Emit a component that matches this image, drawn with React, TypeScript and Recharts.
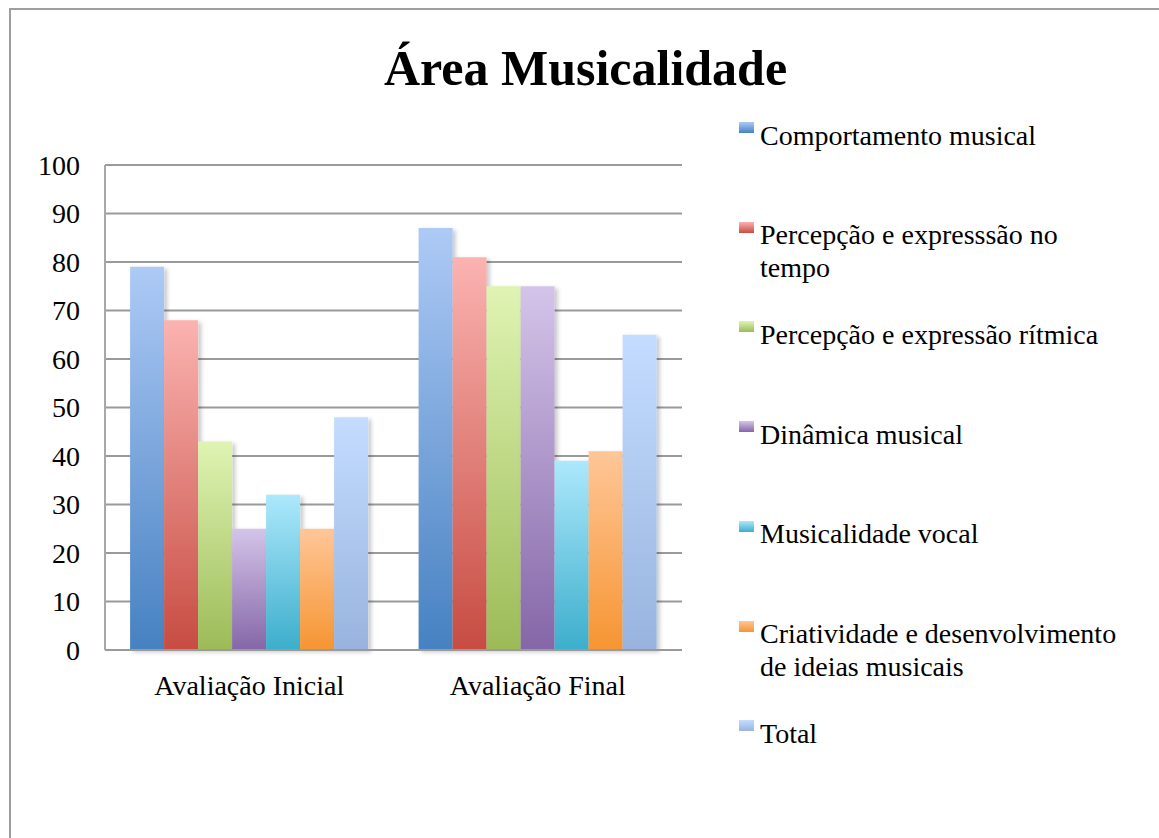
import React from 'react';
import { BarChart, Bar, XAxis, YAxis, CartesianGrid, Legend } from 'recharts';

const FONT = '"Liberation Serif", "Times New Roman", serif';

const categories = ['Avaliação Inicial', 'Avaliação Final'];

const seriesNames = [
  'Comportamento musical',
  'Percepção e expresssão no tempo',
  'Percepção e expressão rítmica',
  'Dinâmica musical',
  'Musicalidade vocal',
  'Criatividade e desenvolvimento de ideias musicais',
  'Total',
];

const comportamentoMusical = [79, 87];
const percepcaoTempo = [68, 81];
const percepcaoRitmica = [43, 75];
const dinamicaMusical = [25, 75];
const musicalidadeVocal = [32, 39];
const criatividade = [25, 41];
const total = [48, 65];

const seriesValues = [
  comportamentoMusical,
  percepcaoTempo,
  percepcaoRitmica,
  dinamicaMusical,
  musicalidadeVocal,
  criatividade,
  total,
];

const gradientTop = ['#aecaf6', '#fbb3b1', '#dff4b3', '#d4c4e9', '#ade8fc', '#ffc698', '#c4dcff'];
const gradientBottom = ['#4681c1', '#c74c42', '#9cbb57', '#8566a8', '#3caecc', '#f69532', '#98b4de'];

const yTicks = [0, 10, 20, 30, 40, 50, 60, 70, 80, 90, 100];

const data = categories.map((category, i) => {
  const row: Record<string, string | number> = { category };
  seriesValues.forEach((vals, s) => {
    row['s' + s] = vals[i];
  });
  return row;
});

const LEGEND_W = 420;

const renderLegend = (props: any) => {
  const payload = props.payload || [];
  return (
    <div style={{ position: 'relative', width: LEGEND_W, height: 680, fontFamily: FONT, fontSize: 28, color: '#000' }}>
      {payload.map((entry: any, k: number) => {
        const idx = seriesNames.indexOf(entry.value);
        const i = idx >= 0 ? idx : k;
        return (
          <div key={i} style={{ position: 'absolute', left: 0, top: 18.5 + i * 99.7, width: LEGEND_W }}>
            <div
              style={{
                position: 'absolute',
                left: 0,
                top: 3.5,
                width: 15,
                height: 11,
                background: `linear-gradient(${gradientTop[i]}, ${gradientBottom[i]})`,
              }}
            />
            <div style={{ position: 'absolute', left: 21, top: 0, width: 372, lineHeight: '33px', textAlign: 'left' }}>
              {seriesNames[i]}
            </div>
          </div>
        );
      })}
    </div>
  );
};

export default function App() {
  return (
    <div style={{ position: 'absolute', left: 0, top: 0, width: 1159, height: 838, overflow: 'hidden', background: '#fff' }}>
      <div
        style={{
          position: 'absolute',
          left: 9,
          top: 8,
          width: 1300,
          height: 1000,
          border: '2px solid #9e9e9e',
          boxSizing: 'border-box',
        }}
      />
      <div
        style={{
          position: 'absolute',
          left: 0,
          top: 40,
          width: 1171,
          textAlign: 'center',
          fontFamily: FONT,
          fontWeight: 'bold',
          fontSize: 50,
          lineHeight: '56px',
          color: '#000',
        }}
      >
        Área Musicalidade
      </div>
      <div style={{ position: 'absolute', left: 0, top: 0 }}>
        <BarChart
          width={1159}
          height={838}
          data={data}
          margin={{ top: 165, right: 477 - LEGEND_W, bottom: 148, left: 0 }}
          barCategoryGap="8.7%"
          barGap={0}
          style={{ fontFamily: FONT }}
        >
          <defs>
            {gradientTop.map((c, i) => (
              <linearGradient key={i} id={'grad' + i} x1="0" y1="0" x2="0" y2="1">
                <stop offset="0%" stopColor={c} />
                <stop offset="100%" stopColor={gradientBottom[i]} />
              </linearGradient>
            ))}
            <filter id="barShadow" x="-20%" y="-10%" width="150%" height="130%">
              <feDropShadow dx="3" dy="2" stdDeviation="2" floodColor="#000" floodOpacity="0.22" />
            </filter>
          </defs>
          <CartesianGrid vertical={false} stroke="#9a9a9a" strokeWidth={2} />
          <XAxis
            dataKey="category"
            height={40}
            tickSize={0}
            tickMargin={25}
            interval={0}
            axisLine={{ stroke: '#9a9a9a', strokeWidth: 2 }}
            tick={{ fontFamily: FONT, fontSize: 28, fill: '#000' }}
          />
          <YAxis
            width={105}
            domain={[0, 100]}
            ticks={yTicks}
            interval={0}
            tickSize={0}
            tickMargin={25}
            axisLine={{ stroke: '#a8a8a8', strokeWidth: 2 }}
            tick={{ fontFamily: FONT, fontSize: 28, fill: '#000' }}
          />
          {seriesNames.map((name, i) => (
            <Bar
              key={i}
              dataKey={'s' + i}
              name={name}
              fill={`url(#grad${i})`}
              filter="url(#barShadow)"
              isAnimationActive={false}
            />
          ))}
          <Legend
            layout="horizontal"
            verticalAlign="middle"
            align="right"
            content={renderLegend}
            wrapperStyle={{ left: 739, top: 100, width: LEGEND_W, height: 680 }}
          />
        </BarChart>
      </div>
    </div>
  );
}
